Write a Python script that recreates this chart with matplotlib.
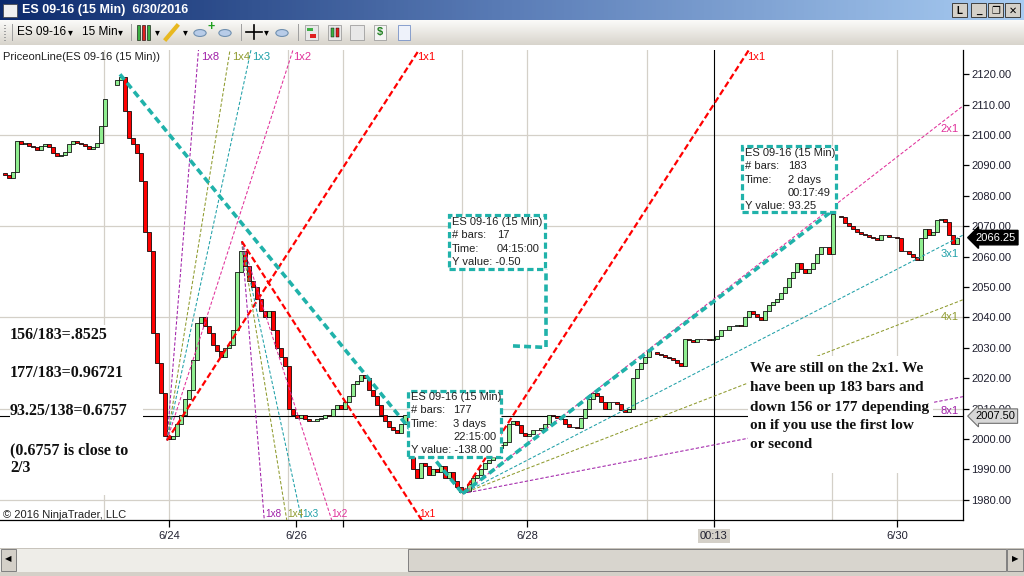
import numpy as np
import matplotlib
matplotlib.use("Agg")
import matplotlib.pyplot as plt
from matplotlib.patches import Rectangle
from matplotlib.colors import LinearSegmentedColormap

plt.rcParams['font.family'] = ['Liberation Sans', 'DejaVu Sans']
plt.rcParams['lines.scale_dashes'] = False

W, H = 1024, 576

# ES 09-16 closes, one slot per candle (NaN = session gap)
closes = [
    2087, 2086, 2088, 2098, 2097, 2097.5, 2096.5, 2096, 2095, 2096.5,
    2097, 2096, 2094, 2093, 2093.5, 2094.5, 2097, 2098, 2097.5, 2097,
    2096.5, 2095.5, 2096, 2097.5, 2103, 2112, np.nan, np.nan, 2118, 2119,
    2108, 2099, 2097, 2094, 2085, 2068, 2062, 2035, 2025, 2015,
    2001, 2000, 2001, 2005, 2008, 2013, 2016, 2026, 2038, 2040,
    2037, 2035, 2031, 2029, 2027, 2030, 2031, 2036, 2055, 2062,
    2057, 2052, 2050, 2046, 2042, 2040, 2042, 2036, 2030, 2027,
    2024, 2010, 2008, 2007, 2008, 2006.5, 2006, 2006, 2006.5, 2007,
    2008, 2007.5, 2010, 2011, 2010, 2012, 2014, 2018, 2019, 2021,
    2020, 2016, 2014, 2011, 2008, 2006, 2004, 2003, 2002, 2005,
    2008, 2006, 1990, 1987, 1992, 1991, 1988, 1990, 1989, 1991,
    1987, 1989, 1986, 1984, 1982.5, 1983, 1985, 1987, 1988, 1990,
    1992, 1993, 1994, 1997, 1998, 1999, 2005, 2006, 2004.5, 2002,
    2001, 2001.5, 2003, 2003, 2003.5, 2005, 2008, 2007.5, 2007, 2006.5,
    2005, 2004, 2004, 2003.5, 2007, 2010, 2013, 2015, 2014, 2012,
    2010, 2012, 2012, 2011.5, 2009.5, 2009, 2010, 2020, 2023, 2025,
    2027, 2029, np.nan, 2028, 2027.5, 2027, 2026.5, 2026, 2025, 2024,
    2033, 2032.5, 2032, 2033, 2033, 2033, 2032.5, 2033, 2034, 2036,
    2036, 2037, 2037, 2037.5, 2037, 2040, 2042, 2041, 2040, 2039,
    2042, 2044, 2045, 2046, 2048, 2050, 2053, 2055, 2058, 2056,
    2054.5, 2056, 2058, 2061, 2063, 2063, 2061, 2074, np.nan, 2073,
    2071, 2070, 2069, 2068, 2067.5, 2067, 2066.5, 2066, 2065.5, 2067,
    2067, 2066.5, 2066.5, 2066, 2062, 2062, 2061, 2060, 2059, 2066,
    2069, 2067, 2068, 2072, 2072.5, 2071.5, 2067, 2064, 2066.25,
]
gap_opens = {0: 2087.5, 28: 2116.5, 163: 2028.5, 209: 2073.5}

# swing points (slot, price)
peak1 = (28.75, 2120.0)
low1 = (40.5, 1999.5)
peak2 = (59.2, 2065.0)
low2 = (114.4, 1982.0)
high3 = (207.0, 2075.25)
ruler_c = [(127.0, 2030.6), (135.25, 2030.1)]
ruler_c_box = 2056.0
pts_per_slot = 2.04  # 1x1 = one point per 15 min bar

fan_colors = {8: '#a020a8', 4: '#8f9b2f', 3: '#1fa0a8', 2: '#e0309a', 1: '#ff0000'}
fan_low1 = ['1x8', '1x4', '1x3', '1x2', '1x1']
fan_peak2 = ['1x8', '1x4', '1x3', '1x2', '1x1']
fan_low2 = ['1x1', '2x1', '3x1', '4x1', '8x1']

price_ticks = np.arange(1980, 2121, 10)
grid_prices = [1980, 2010, 2040, 2070, 2100]
grid_slots = [24.75, 41, 70.75, 84.5, 114.25, 130.5, 160.5, 206.75, 223]
date_slots = [41, 72.75, 84.5, 130.5, 177.25, 223]
date_labels = ['6/24', '6/26', '', '6/28', '00:13', '6/30']
cursor_slot = 177.25
cursor_price = 2007.5
last_price = 2066.25

left_note = ['156/183=.8525', '177/183=0.96721', '93.25/138=0.6757',
             '(0.6757 is close to', '2/3']
right_note = ['We are still on the 2x1. We', 'have been up 183 bars and',
              'down 156 or 177 depending', 'on if you use the first low',
              'or second']

fig = plt.figure(figsize=(W / 100, H / 100), dpi=100)
fig.patch.set_facecolor('white')


def fx(x):
    return x / W


def fy(y):
    return 1 - y / H


def prect(x0, y0, x1, y1, **kw):
    r = Rectangle((fx(x0), fy(y1)), fx(x1) - fx(x0), fy(y0) - fy(y1),
                  transform=fig.transFigure, **kw)
    fig.add_artist(r)
    return r


def ptext(x, y, s, **kw):
    fig.text(fx(x), fy(y), s, **kw)


# ---- main chart
ax = fig.add_axes([0, fy(520), fx(963), fy(50) - fy(520)])
ax.set_xlim(-1.25, 239.5)
ax.set_ylim(1973.3, 2128.0)
for s in ['top', 'left']:
    ax.spines[s].set_visible(False)
for s in ['right', 'bottom']:
    ax.spines[s].set_linewidth(0.9)

for g in grid_prices:
    ax.axhline(g, color='#d4d0c8', lw=0.9, zorder=0)
for g in grid_slots:
    ax.axvline(g, color='#d4d0c8', lw=0.9, zorder=0)

ax.axvline(cursor_slot, color='black', lw=0.8, zorder=1)
ax.axhline(cursor_price, color='black', lw=0.8, zorder=1)

c = np.array(closes, dtype=float)
o = np.empty_like(c)
prev = np.nan
for i, v in enumerate(c):
    o[i] = gap_opens.get(i, prev)
    if not np.isnan(v):
        prev = v
slots = np.arange(len(c))
ok = ~np.isnan(c)
up = ok & (c >= o)
dn = ok & (c < o)
ax.bar(slots[up], (c - o)[up], bottom=o[up], width=0.9, color='#90ee90',
       edgecolor='black', linewidth=0.55, zorder=4)
ax.bar(slots[dn], (c - o)[dn], bottom=o[dn], width=0.9, color='#ff0000',
       edgecolor='black', linewidth=0.55, zorder=4)


def ratio(name):
    a, b = name.split('x')
    return float(b) / float(a)


def fan_line(anchor, name, sign):
    m = ratio(name) * pts_per_slot * sign
    big = int(max(name.split('x')))
    col = fan_colors[big]
    if name == '1x1':
        ax.plot([anchor[0], anchor[0] + 300], [anchor[1], anchor[1] + m * 300],
                color=col, lw=1.6, dashes=(4.5, 2.2), zorder=5)
    else:
        ax.plot([anchor[0], anchor[0] + 300], [anchor[1], anchor[1] + m * 300],
                color=col, lw=0.75, dashes=(2.4, 1.4), zorder=5)
    return m, col


top_lab, bot_lab = 2125.7, 1975.4
for name in fan_low1:
    m, col = fan_line(low1, name, 1)
    ax.text(low1[0] + (top_lab - low1[1]) / m + 0.7, top_lab, name, color=col,
            fontsize=8, ha='left', va='center', zorder=6)
for name in fan_peak2:
    m, col = fan_line(peak2, name, -1)
    ax.text(peak2[0] + (bot_lab - peak2[1]) / m + 0.5, bot_lab, name, color=col,
            fontsize=7.2, ha='left', va='center', zorder=6)
for name in fan_low2:
    m, col = fan_line(low2, name, 1)
    if name == '1x1':
        ax.text(low2[0] + (top_lab - low2[1]) / m + 0.7, top_lab, name,
                color=col, fontsize=8, ha='left', va='center', zorder=6)
    else:
        xl = 235.75
        ax.annotate(name, (xl, low2[1] + m * (xl - low2[0])), xytext=(7.5, -8),
                    textcoords='offset points', color=col, fontsize=8,
                    ha='right', va='center', zorder=6)

teal = '#20b2aa'
for a, b in [(peak1, low2), (low2, high3)]:
    ax.plot([a[0], b[0]], [a[1], b[1]], color=teal, lw=2.6, dashes=(5, 3),
            zorder=6, solid_capstyle='butt')
ax.plot([p[0] for p in ruler_c], [p[1] for p in ruler_c], color=teal, lw=2.6,
        dashes=(5, 3), zorder=6)
ax.plot([ruler_c[1][0]] * 2, [ruler_c[1][1], ruler_c_box], color=teal, lw=2.6,
        dashes=(5, 3), zorder=6)

ax.yaxis.tick_right()
ax.set_yticks(price_ticks)
ax.set_yticklabels([f'{p:.2f}' for p in price_ticks])
ax.tick_params(axis='y', direction='out', length=4, width=0.9, pad=2,
               labelsize=8, labelcolor='#202030')
ax.set_xticks(date_slots)
ax.set_xticklabels(date_labels)
ax.tick_params(axis='x', direction='out', length=5, width=0.9, pad=3,
               labelsize=8, labelcolor='#202030')
for t in ax.get_xticklabels():
    if t.get_text() == '00:13':
        t.set_bbox(dict(boxstyle='square,pad=0.2', fc='#d4d0c8', ec='none'))

ax.text(1.013, last_price, f'{last_price:.2f}', transform=ax.get_yaxis_transform(),
        ha='left', va='center', color='white', fontsize=8, clip_on=False,
        bbox=dict(boxstyle='larrow,pad=0.2', fc='black', ec='black'))
ax.text(1.013, cursor_price, f'{cursor_price:.2f}', transform=ax.get_yaxis_transform(),
        ha='left', va='center', color='black', fontsize=8, clip_on=False,
        bbox=dict(boxstyle='larrow,pad=0.2', fc='#d8d8d8', ec='#707070', lw=0.8))

# ---- annotations on the chart
ptext(3, 57, 'PriceonLine(ES 09-16 (15 Min))', fontsize=8, color='#202020',
      va='center')
ptext(3, 515, '\u00a9 2016 NinjaTrader, LLC', fontsize=8, color='#202020',
      va='center')

serif = dict(family='Liberation Serif', fontweight='bold', color='#101010',
             va='center', ha='left', zorder=3)
prect(10, 325, 143, 495, fc='white', ec='none', zorder=2)
for yy, line in zip([335, 373, 411, 450, 468], left_note):
    ptext(10, yy, line, fontsize=11.5, **serif)
prect(748, 356, 933, 473, fc='white', ec='none', zorder=2)
for yy, line in zip([369, 388, 407, 426, 445], right_note):
    ptext(750, yy, line, fontsize=11.0, **serif)


def ruler_box(x0, y0, x1, y1, rows, col2, y_first):
    prect(x0, y0, x1, y1, fc='white', ec=teal, lw=2.3,
          linestyle=(0, (4.5, 2.5)), zorder=2)
    for k, (lab, val) in enumerate(rows):
        yy = y_first + k * 13.3
        ptext(x0 + 3, yy, lab, fontsize=8, color='#202020', va='center', zorder=3)
        if val:
            ptext(col2, yy, val, fontsize=8, color='#202020', va='center', zorder=3)


ruler_box(742, 146, 836, 212, [('ES 09-16 (15 Min)', ''), ('# bars:', '183'),
                               ('Time:', '2 days'), ('', '00:17:49'),
                               ('Y value: 93.25', '')], 788, 153)
ruler_box(408, 391, 501, 457, [('ES 09-16 (15 Min)', ''), ('# bars:', '177'),
                               ('Time:', '3 days'), ('', '22:15:00'),
                               ('Y value: -138.00', '')], 453, 397)
ruler_box(449, 215, 545, 269, [('ES 09-16 (15 Min)', ''), ('# bars:', '17'),
                               ('Time:', '04:15:00'), ('Y value: -0.50', '')],
          497, 222)

# ---- window chrome
tbar = fig.add_axes([0, fy(20), 1, fy(0) - fy(20)])
tbar.imshow(np.linspace(0, 1, 256)[None, :], aspect='auto', extent=[0, 1, 0, 1],
            cmap=LinearSegmentedColormap.from_list('t', ['#0c2a6c', '#5b7db7', '#a8ccf2']))
tbar.axis('off')
tool = fig.add_axes([0, fy(45), 1, fy(20) - fy(45)])
tool.imshow(np.linspace(0, 1, 64)[:, None], aspect='auto', extent=[0, 1, 0, 1],
            cmap=LinearSegmentedColormap.from_list('g', ['#fbfbf9', '#d8d4cc']))
tool.axis('off')

prect(3, 4, 17, 17, fc='#f0f0f0', ec='#404040', lw=0.5, zorder=5)
ptext(22, 10, 'ES 09-16 (15 Min)  6/30/2016', fontsize=9, fontweight='bold',
      color='white', va='center', zorder=5)
for x0, s in [(952, 'L'), (971, '_'), (988, '\u2750'), (1005, '\u2715')]:
    prect(x0, 3, x0 + 15, 17, fc='#d4d0c8', ec='#404040', lw=0.7, zorder=5)
    ptext(x0 + 7.5, 10.5, s, fontsize=7, fontweight='bold', ha='center',
          va='center', color='black', zorder=6)

for gy in range(25, 41, 3):
    prect(4, gy, 6, gy + 1, fc='#a0a0a0', ec='none', zorder=5)
ptext(17, 32, 'ES 09-16', fontsize=8.5, va='center', color='black', zorder=5)
ptext(68, 32, '\u25be', fontsize=7, va='center', color='black', zorder=5)
ptext(82, 32, '15 Min', fontsize=8.5, va='center', color='black', zorder=5)
ptext(118, 32, '\u25be', fontsize=7, va='center', color='black', zorder=5)
for xs in [12, 131, 241, 298]:
    prect(xs, 24, xs + 1, 41, fc='#a0a0a0', ec='none', zorder=5)
for k, colr in enumerate(['#3cb043', '#e02020', '#3cb043']):
    prect(137 + k * 5, 25, 140 + k * 5, 40, fc=colr, ec='black', lw=0.4, zorder=5)
ptext(155, 32, '\u25be', fontsize=7, va='center', zorder=5)
fig.add_artist(plt.Line2D([fx(166), fx(177)], [fy(39), fy(26)], color='#e8b820',
                          lw=3, transform=fig.transFigure, zorder=5))
ptext(183, 32, '\u25be', fontsize=7, va='center', zorder=5)
for cx in [200, 225, 282]:
    fig.add_artist(plt.Circle((fx(cx), fy(33)), 0.006, transform=fig.transFigure,
                              fc='#b8cce8', ec='#7090b0', lw=0.8, zorder=5))
ptext(207, 27, '+', fontsize=9, fontweight='bold', color='#20a020', va='center',
      zorder=6)
fig.add_artist(plt.Line2D([fx(246), fx(262)], [fy(32), fy(32)], color='black',
                          lw=1.2, transform=fig.transFigure, zorder=5))
fig.add_artist(plt.Line2D([fx(254), fx(254)], [fy(25), fy(39)], color='black',
                          lw=1.2, transform=fig.transFigure, zorder=5))
ptext(264, 32, '\u25be', fontsize=7, va='center', zorder=5)
prect(305, 25, 318, 40, fc='#e8e8e8', ec='#909090', lw=0.5, zorder=5)
prect(307, 28, 313, 31, fc='#3cb043', ec='none', zorder=6)
prect(310, 34, 316, 38, fc='#e02020', ec='none', zorder=6)
prect(328, 25, 341, 40, fc='#e8e8e8', ec='#909090', lw=0.5, zorder=5)
prect(331, 28, 334, 37, fc='#3cb043', ec='black', lw=0.3, zorder=6)
prect(336, 28, 339, 37, fc='#e02020', ec='black', lw=0.3, zorder=6)
prect(350, 25, 364, 40, fc='#e8e8e8', ec='#909090', lw=0.5, zorder=5)
prect(374, 25, 386, 40, fc='#f4f4f4', ec='#909090', lw=0.5, zorder=5)
ptext(380, 32.5, '$', fontsize=8, fontweight='bold', color='#208020', ha='center',
      va='center', zorder=6)
prect(398, 25, 410, 40, fc='#eef2fa', ec='#6080c0', lw=0.5, zorder=5)

# scrollbar
prect(0, 548, 1024, 572, fc='#eeede8', ec='none', hatch='....', zorder=1)
prect(0, 548, 1024, 549, fc='#c8c4bc', ec='none', zorder=2)
prect(1, 549, 16, 571, fc='#d4d0c8', ec='#808080', lw=0.7, zorder=2)
ptext(8.5, 560, '\u25c0', fontsize=6, ha='center', va='center', zorder=3)
prect(408, 549, 1006, 571, fc='#d8d5ce', ec='#808080', lw=0.7, zorder=2)
prect(1007, 549, 1023, 571, fc='#d4d0c8', ec='#808080', lw=0.7, zorder=2)
ptext(1015, 560, '\u25b6', fontsize=6, ha='center', va='center', zorder=3)
prect(0, 572, 1024, 576, fc='#d4d0c8', ec='none', zorder=2)

fig.savefig('out.png', dpi=100)
